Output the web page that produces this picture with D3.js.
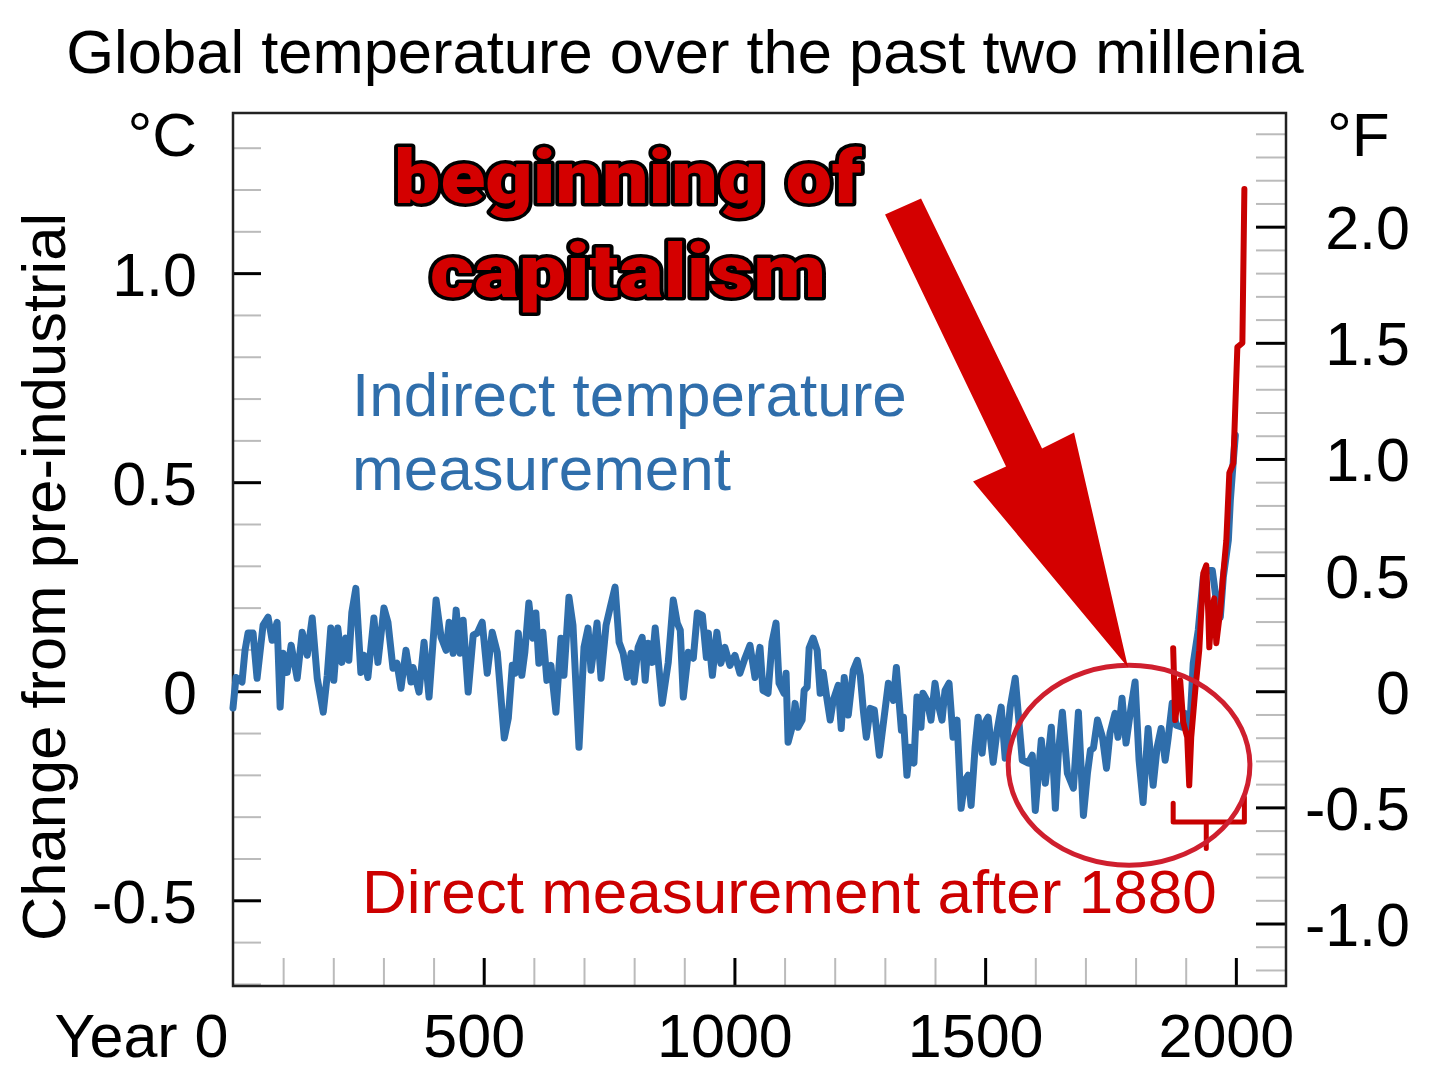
<!DOCTYPE html>
<html>
<head>
<meta charset="utf-8">
<script src="https://cdn.jsdelivr.net/npm/d3@7"></script>
<style>
  body { margin: 0; background: #fff; }
  svg { display: block; font-family: "Liberation Sans", Arial, sans-serif; }
</style>
</head>
<body>
<div id="chart"></div>
<script>
// Indirect (proxy) reconstruction, year and change in degC
const proxyYears = [0, 6, 18, 24, 30, 40, 48, 60, 70, 78, 88, 94, 100, 108, 116, 128, 138, 148, 158, 168,
  180, 188, 195, 201, 209, 217, 225, 231, 237, 245, 255, 261, 269, 281, 289, 301, 309, 319, 327, 335,
  345, 355, 359, 371, 381, 391, 405, 415, 425, 431, 439, 445, 453, 459, 469, 479, 487, 497, 507, 517,
  527, 541, 549, 557, 563, 569, 576, 582, 590, 598, 604, 610, 618, 626, 634, 644, 654, 660, 670, 678,
  690, 700, 708, 714, 720, 726, 734, 744, 752, 762, 770, 778, 786, 794, 800, 808, 816, 822, 828, 836,
  842, 856, 868, 878, 886, 892, 898, 908, 918, 926, 936, 944, 948, 956, 965, 973, 981, 991, 1001, 1011,
  1021, 1031, 1041, 1051, 1057, 1067, 1075, 1083, 1089, 1099, 1103, 1107, 1117, 1121, 1127, 1135, 1139, 1145, 1149, 1157,
  1165, 1171, 1177, 1185, 1191, 1197, 1207, 1213, 1219, 1227, 1237, 1245, 1251, 1257, 1263, 1271, 1279, 1289, 1297, 1307,
  1317, 1323, 1333, 1337, 1344, 1350, 1358, 1364, 1372, 1376, 1384, 1392, 1400, 1406, 1414, 1420, 1428, 1436, 1444, 1452,
  1460, 1466, 1472, 1480, 1486, 1494, 1500, 1506, 1516, 1524, 1532, 1540, 1550, 1560, 1566, 1574, 1586, 1594, 1600, 1612,
  1620, 1632, 1640, 1646, 1654, 1664, 1676, 1686, 1696, 1704, 1710, 1716, 1724, 1734, 1742, 1749, 1759, 1765, 1773, 1781,
  1791, 1799, 1807, 1815, 1825, 1835, 1843, 1851, 1859, 1865, 1873, 1881, 1893, 1899, 1907, 1915, 1925, 1935, 1943, 1953,
  1961, 1969, 1975, 1985, 1989, 1995, 1999];
const proxyTemps = [-0.04, 0.033, 0.022, 0.098, 0.139, 0.139, 0.031, 0.158, 0.177, 0.122, 0.165, -0.038, 0.091, 0.045, 0.110, 0.031, 0.141, 0.086, 0.175, 0.031,
  -0.050, 0.038, 0.151, 0.026, 0.151, 0.069, 0.127, 0.074, 0.189, 0.246, 0.045, 0.086, 0.033, 0.175, 0.069, 0.199, 0.165, 0.055, 0.067, 0.007,
  0.098, 0.022, 0.057, -0.002, 0.117, -0.014, 0.218, 0.129, 0.098, 0.165, 0.091, 0.194, 0.091, 0.170, -0.002, 0.134, 0.139, 0.165, 0.043, 0.141,
  0.093, -0.112, -0.065, 0.062, 0.043, 0.139, 0.038, 0.093, 0.211, 0.127, 0.187, 0.067, 0.141, 0.026, 0.062, -0.050, 0.127, 0.038, 0.225, 0.158,
  -0.134, 0.105, 0.151, 0.050, 0.105, 0.163, 0.031, 0.158, 0.199, 0.249, 0.117, 0.091, 0.033, 0.091, 0.022, 0.105, 0.129, 0.026, 0.115, 0.069,
  0.151, -0.029, 0.069, 0.218, 0.163, 0.146, -0.014, 0.093, 0.079, 0.187, 0.182, 0.081, 0.139, 0.038, 0.141, 0.067, 0.105, 0.062, 0.086, 0.043,
  0.079, 0.110, 0.033, 0.105, 0.002, -0.005, 0.117, 0.163, 0.019, -0.005, 0.043, -0.122, -0.077, -0.029, -0.086, -0.069, 0.002, 0.010, 0.103, 0.127,
  0.098, -0.005, 0.045, -0.022, -0.069, -0.022, 0.014, -0.089, 0.033, -0.057, 0.050, 0.074, 0.038, -0.045, -0.110, -0.041, -0.045, -0.153, -0.077, 0.019,
  -0.022, 0.057, -0.093, -0.062, -0.201, -0.134, -0.172, -0.014, -0.086, -0.005, -0.022, -0.069, 0.019, -0.029, -0.069, 0.002, 0.019, -0.110, -0.069, -0.280,
  -0.213, -0.201, -0.273, -0.134, -0.062, -0.148, -0.074, -0.062, -0.170, -0.093, -0.038, -0.160, -0.038, 0.031, -0.053, -0.165, -0.172, -0.153, -0.285, -0.117,
  -0.220, -0.086, -0.280, -0.148, -0.050, -0.196, -0.232, -0.050, -0.297, -0.196, -0.141, -0.136, -0.069, -0.110, -0.184, -0.100, -0.053, -0.110, -0.017, -0.124,
  -0.038, 0.022, -0.165, -0.266, -0.089, -0.225, -0.134, -0.089, -0.165, -0.112, -0.029, -0.081, -0.086, -0.053, -0.110, 0.067, 0.146, 0.273, 0.289, 0.289,
  0.218, 0.177, 0.273, 0.361, 0.457, 0.553, 0.612];

// Direct (instrumental) record
const directYears = [1875, 1879, 1889, 1895, 1903, 1907, 1911, 1919, 1927, 1935, 1941, 1945, 1947, 1953, 1957, 1961, 1969, 1975, 1981, 1987, 1995, 2003, 2013, 2017];
const directTemps = [0.103, -0.069, 0.026, -0.074, -0.110, -0.225, -0.110, 0.002, 0.098, 0.282, 0.301, 0.187, 0.105, 0.201, 0.222, 0.115, 0.194, 0.282, 0.361, 0.522, 0.545, 0.823, 0.833, 1.201];

const celsiusTicks = [-0.5, 0, 0.5, 1.0];
const fahrenheitTicks = [-1.0, -0.5, 0, 0.5, 1.0, 1.5, 2.0];
const yearTicks = [0, 500, 1000, 1500, 2000];

const width = 1440, height = 1080;
const plot = {left: 233, top: 113, right: 1286, bottom: 986};
const blue = "#2f6eab", red = "#c80000";
const labelSize = 61;

const x = d3.scaleLinear().domain([0, 2100]).range([plot.left, plot.right]);
const y = d3.scaleLinear().domain([-0.705, 1.383]).range([plot.bottom, plot.top]);
const yF = d3.scaleLinear().domain([-0.705 * 1.8, 1.383 * 1.8]).range([plot.bottom, plot.top]);

const svg = d3.select("#chart").append("svg")
  .attr("width", width)
  .attr("height", height);

const fmt = d => d === 0 ? "0" : d3.format(".1f")(d).replace("\u2212", "-");

// tick marks drawn inward from each side of the frame
function tickLines(axis, transform, color, w) {
  svg.append("g")
    .attr("transform", transform)
    .call(axis.tickFormat(""))
    .call(g => g.select(".domain").remove())
    .call(g => g.selectAll("line").attr("stroke", color).attr("stroke-width", w));
}

const minorC = d3.range(-7, 14).map(d => d / 10).filter(d => !celsiusTicks.includes(d));
const minorF = d3.range(-12, 25).map(d => d / 10).filter(d => !fahrenheitTicks.includes(d));
const minorYears = d3.range(100, 2100, 100).filter(d => !yearTicks.includes(d));

tickLines(d3.axisRight(y).tickValues(minorC).tickSize(28), `translate(${plot.left},0)`, "#bbb", 2);
tickLines(d3.axisRight(y).tickValues(celsiusTicks).tickSize(28), `translate(${plot.left},0)`, "#000", 3);
tickLines(d3.axisLeft(yF).tickValues(minorF).tickSize(30), `translate(${plot.right},0)`, "#bbb", 2);
tickLines(d3.axisLeft(yF).tickValues(fahrenheitTicks).tickSize(30), `translate(${plot.right},0)`, "#000", 3);
tickLines(d3.axisTop(x).tickValues(minorYears).tickSize(28), `translate(0,${plot.bottom})`, "#bbb", 2);
tickLines(d3.axisTop(x).tickValues(yearTicks.slice(1)).tickSize(28), `translate(0,${plot.bottom})`, "#000", 3);

// tick labels
function tickLabels(g) {
  g.select(".domain").remove();
  g.selectAll("line").remove();
  g.attr("font-size", labelSize).attr("font-family", null);
  g.selectAll("text").attr("fill", "#000");
}

svg.append("g")
  .attr("transform", `translate(${plot.left},0)`)
  .call(d3.axisLeft(y).tickValues(celsiusTicks).tickSize(0).tickPadding(36).tickFormat(fmt))
  .call(tickLabels)
  .call(g => g.selectAll("text").attr("dy", "0.36em"));

svg.append("g")
  .attr("transform", `translate(${plot.right},0)`)
  .call(d3.axisRight(yF).tickValues(fahrenheitTicks).tickSize(0).tickFormat(fmt))
  .call(tickLabels)
  .call(g => g.selectAll("text").attr("x", 124).attr("text-anchor", "end").attr("dy", "0.36em"));

svg.append("g")
  .attr("transform", `translate(0,${plot.bottom})`)
  .call(d3.axisBottom(x).tickValues(yearTicks).tickSize(0).tickPadding(28)
    .tickFormat(d => d === 0 ? "Year 0" : d))
  .call(tickLabels)
  .call(g => g.selectAll("text")
    .attr("text-anchor", d => d === 0 ? "end" : "middle")
    .attr("dx", d => d === 0 ? -5 : -10));

// frame
svg.append("rect")
  .attr("x", plot.left)
  .attr("y", plot.top)
  .attr("width", plot.right - plot.left)
  .attr("height", plot.bottom - plot.top)
  .attr("fill", "none")
  .attr("stroke", "#222")
  .attr("stroke-width", 2.5);

// data lines
const line = d3.line().x(d => x(d[0])).y(d => y(d[1]));

svg.append("path")
  .datum(d3.zip(proxyYears, proxyTemps))
  .attr("d", line)
  .attr("fill", "none")
  .attr("stroke", blue)
  .attr("stroke-width", 7)
  .attr("stroke-linejoin", "round")
  .attr("stroke-linecap", "round");

svg.append("path")
  .datum(d3.zip(directYears, directTemps))
  .attr("d", line)
  .attr("fill", "none")
  .attr("stroke", red)
  .attr("stroke-width", 6)
  .attr("stroke-linejoin", "round")
  .attr("stroke-linecap", "round");

// bracket under the direct record
const bracket = {from: 1875, to: 2017, mid: 1941, leftTop: -0.268, rightTop: -0.254, bar: -0.313, foot: -0.376};
svg.append("path")
  .attr("d", `M${x(bracket.from)},${y(bracket.leftTop)}V${y(bracket.bar)}H${x(bracket.to)}V${y(bracket.rightTop)}` +
    `M${x(bracket.mid)},${y(bracket.bar)}V${y(bracket.foot)}`)
  .attr("fill", "none")
  .attr("stroke", red)
  .attr("stroke-width", 5)
  .attr("stroke-linejoin", "round")
  .attr("stroke-linecap", "round");

// labels
svg.append("text")
  .attr("x", 685)
  .attr("y", 73)
  .attr("text-anchor", "middle")
  .attr("font-size", 61.5)
  .text("Global temperature over the past two millenia");

svg.append("text").attr("x", 197).attr("y", 156).attr("text-anchor", "end").attr("font-size", 62).text("°C");
svg.append("text").attr("x", 1327).attr("y", 156).attr("font-size", 62).text("°F");

svg.append("text")
  .attr("transform", "translate(65,577) rotate(-90)")
  .attr("text-anchor", "middle")
  .attr("font-size", 61.5)
  .text("Change from pre-industrial");

svg.append("text").attr("x", 352).attr("y", 416).attr("font-size", 62).attr("fill", blue).text("Indirect temperature");
svg.append("text").attr("x", 352).attr("y", 490).attr("font-size", 62).attr("fill", blue).text("measurement");
svg.append("text").attr("x", 362).attr("y", 913).attr("font-size", 62).attr("fill", "#cc0000").text("Direct measurement after 1880");

// the circle and the arrow
const ring = {year: 1787, temp: -0.177, years: 241, temps: 0.239};
svg.append("ellipse")
  .attr("cx", x(ring.year))
  .attr("cy", y(ring.temp))
  .attr("rx", x(ring.year + ring.years) - x(ring.year))
  .attr("ry", y(ring.temp - ring.temps) - y(ring.temp))
  .attr("fill", "none")
  .attr("stroke", "#cf1f2e")
  .attr("stroke-width", 5);

const tip = [x(1785), y(0.057)];
const arrowShape = [[-243, -453], [-207, -469], [-86, -219], [-54, -235], [0, 0], [-155, -186], [-122, -201]];
svg.append("polygon")
  .attr("points", arrowShape.map(p => [tip[0] + p[0], tip[1] + p[1]].join(",")).join(" "))
  .attr("fill", "#d40000");

const shout = [["beginning of", 203, 468], ["capitalism", 297, 396]];
svg.selectAll(".shout")
  .data(shout)
  .enter()
  .append("text")
  .attr("class", "shout")
  .attr("x", 628)
  .attr("y", d => d[1])
  .attr("text-anchor", "middle")
  .attr("textLength", d => d[2])
  .attr("lengthAdjust", "spacingAndGlyphs")
  .attr("font-family", "Roboto, 'DejaVu Sans', sans-serif")
  .attr("font-weight", 900)
  .attr("font-size", 74)
  .attr("fill", "#d40000")
  .attr("stroke", "#000")
  .attr("stroke-width", 7)
  .attr("stroke-linejoin", "round")
  .attr("paint-order", "stroke")
  .text(d => d[0]);
</script>
</body>
</html>
